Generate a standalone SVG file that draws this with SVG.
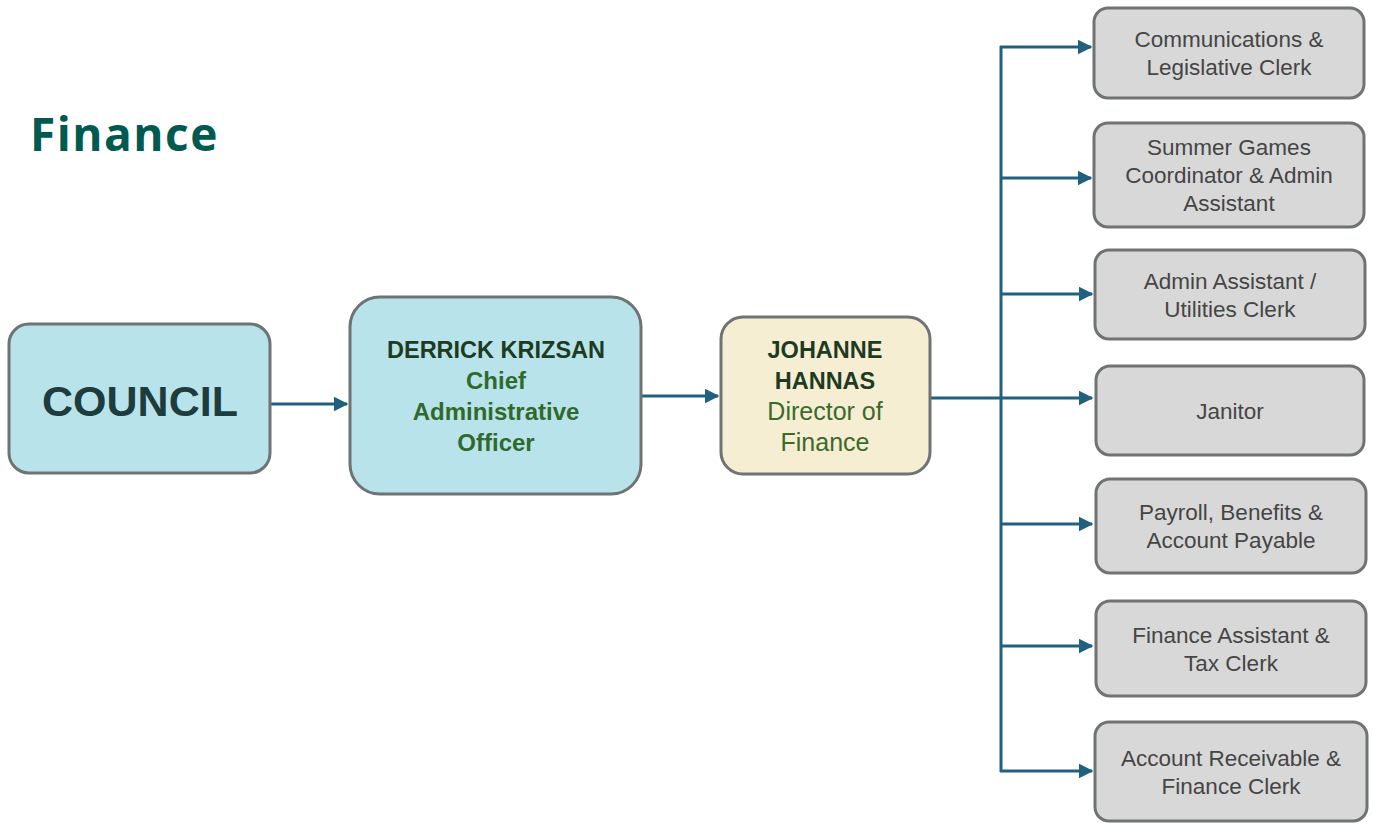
<svg xmlns="http://www.w3.org/2000/svg" width="1373" height="824" viewBox="0 0 1373 824">
<style>
.box{stroke:#6f7373;stroke-width:3}
.blue{fill:#b9e3ea}
.tan{fill:#f6eed2}
.gray{fill:#d8d8d8}
.conn{stroke:#21607f;stroke-width:3;fill:none}
.t{font-family:"Liberation Sans",Arial,sans-serif;text-anchor:middle}
.g{font-size:22.5px;fill:#454545}
.nm{font-size:23.5px;font-weight:bold;fill:#1d3b22}
.rl{font-size:24px;font-weight:bold;fill:#2f6a2c}
.rn{font-size:25px;fill:#3b6a2c}
</style>
<defs>
<marker id="ah" viewBox="0 0 10 10" refX="9" refY="5" markerWidth="5" markerHeight="5" markerUnits="strokeWidth" orient="auto">
<path d="M0,0 L10,5 L0,10 z" fill="#21607f"/>
</marker>
</defs>
<rect width="1373" height="824" fill="#ffffff"/>
<text x="30" y="151" font-family="'Open Sans','Liberation Sans',sans-serif" font-size="46" font-weight="bold" letter-spacing="1.5" fill="#005a50">Finance</text>
<g id="connectors">
<line class="conn" x1="271" y1="404" x2="347" y2="404" marker-end="url(#ah)"/>
<line class="conn" x1="641" y1="396" x2="718" y2="396" marker-end="url(#ah)"/>
<line class="conn" x1="930" y1="398" x2="1001" y2="398"/>
<line class="conn" x1="1001" y1="46" x2="1001" y2="772"/>
<line class="conn" x1="1000" y1="47" x2="1091" y2="47" marker-end="url(#ah)"/>
<line class="conn" x1="1000" y1="178" x2="1091" y2="178" marker-end="url(#ah)"/>
<line class="conn" x1="1000" y1="294" x2="1092" y2="294" marker-end="url(#ah)"/>
<line class="conn" x1="1000" y1="398" x2="1092" y2="398" marker-end="url(#ah)"/>
<line class="conn" x1="1000" y1="524" x2="1092" y2="524" marker-end="url(#ah)"/>
<line class="conn" x1="1000" y1="646" x2="1092" y2="646" marker-end="url(#ah)"/>
<line class="conn" x1="1000" y1="771" x2="1092" y2="771" marker-end="url(#ah)"/>
</g>
<g id="council">
<rect class="box blue" x="9" y="324" width="261" height="149" rx="20"/>
<text class="t" x="140" y="416" font-size="43" font-weight="bold" fill="#1e3c3e">COUNCIL</text>
</g>
<g id="cao">
<rect class="box blue" x="350" y="297" width="291" height="197" rx="30"/>
<text class="t nm" x="496" y="358">DERRICK KRIZSAN</text>
<text class="t rl" x="496" y="389">Chief</text>
<text class="t rl" x="496" y="420">Administrative</text>
<text class="t rl" x="496" y="451">Officer</text>
</g>
<g id="director">
<rect class="box tan" x="721" y="317" width="209" height="157" rx="22"/>
<text class="t nm" x="825" y="358">JOHANNE</text>
<text class="t nm" x="825" y="389">HANNAS</text>
<text class="t rn" x="825" y="420">Director of</text>
<text class="t rn" x="825" y="451">Finance</text>
</g>
<g id="comm">
<rect class="box gray" x="1094" y="8" width="270" height="90" rx="14"/>
<text class="t g" x="1229" y="47">Communications &amp;</text>
<text class="t g" x="1229" y="75">Legislative Clerk</text>
</g>
<g id="summer">
<rect class="box gray" x="1094" y="123" width="270" height="104" rx="14"/>
<text class="t g" x="1229" y="155">Summer Games</text>
<text class="t g" x="1229" y="183">Coordinator &amp; Admin</text>
<text class="t g" x="1229" y="211">Assistant</text>
</g>
<g id="admin">
<rect class="box gray" x="1095" y="250" width="270" height="89" rx="14"/>
<text class="t g" x="1230" y="289">Admin Assistant /</text>
<text class="t g" x="1230" y="317">Utilities Clerk</text>
</g>
<g id="janitor">
<rect class="box gray" x="1096" y="366" width="268" height="89" rx="14"/>
<text class="t g" x="1230" y="419">Janitor</text>
</g>
<g id="payroll">
<rect class="box gray" x="1096" y="479" width="270" height="94" rx="14"/>
<text class="t g" x="1231" y="520">Payroll, Benefits &amp;</text>
<text class="t g" x="1231" y="548">Account Payable</text>
</g>
<g id="finassist">
<rect class="box gray" x="1096" y="601" width="270" height="95" rx="14"/>
<text class="t g" x="1231" y="643">Finance Assistant &amp;</text>
<text class="t g" x="1231" y="671">Tax Clerk</text>
</g>
<g id="receivable">
<rect class="box gray" x="1095" y="722" width="272" height="99" rx="14"/>
<text class="t g" x="1231" y="766">Account Receivable &amp;</text>
<text class="t g" x="1231" y="794">Finance Clerk</text>
</g>
</svg>
